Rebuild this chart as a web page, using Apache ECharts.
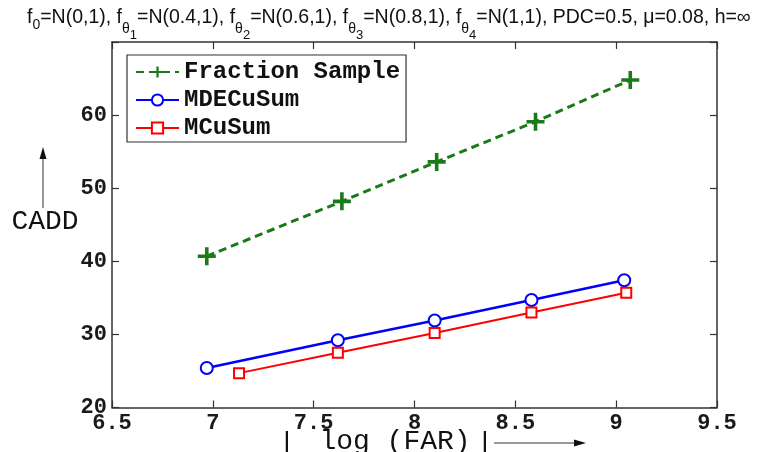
<!DOCTYPE html>
<html><head><meta charset="utf-8">
<script src="https://cdn.jsdelivr.net/npm/echarts@6/dist/echarts.min.js"></script>
<style>html,body{margin:0;padding:0;background:#fff}#c{width:757px;height:452px}</style>
</head><body><div id="c"></div>
<script>
// ---- data ----
const seriesNames = ['Fraction Sample', 'MDECuSum', 'MCuSum'];
const xTicks = ['6.5', '7', '7.5', '8', '8.5', '9', '9.5'];
const yTicks = ['20', '30', '40', '50', '60'];
const fracX = [6.97, 7.64, 8.11, 8.60, 9.07];
const fracY = [40.7, 48.2, 53.6, 59.1, 64.8];
const mdeX  = [6.97, 7.62, 8.10, 8.58, 9.04];
const mdeY  = [25.4, 29.2, 31.9, 34.7, 37.4];
const mcX   = [7.13, 7.62, 8.10, 8.58, 9.05];
const mcY   = [24.7, 27.5, 30.2, 33.0, 35.7];

const pairs = (xs, ys) => xs.map((x, i) => [x, ys[i]]);
const MONO = '"Liberation Mono", "Courier New", monospace';
const SANS = '"Liberation Sans", Arial, sans-serif';
const AX = '#333';
const GREEN = '#1a7a1a', BLUE = '#0000ff', RED = '#ff0000';
const PLUS = 'path://M0.4,0H0.6V0.4H1V0.6H0.6V1H0.4V0.6H0V0.4H0.4Z';

const chart = echarts.init(document.getElementById('c'), null, {renderer: 'canvas'});

const axisCommon = {
  type: 'value',
  axisLine: {show: true, lineStyle: {color: AX, width: 1.5}},
  axisTick: {show: true, inside: true, length: 7, lineStyle: {color: AX, width: 1.2}},
  splitLine: {show: false}
};

const rich = {
  n: {fontFamily: SANS, fontSize: 19.5, lineHeight: 22, verticalAlign: 'top', color: '#111', fontWeight: 'normal'},
  s: {fontFamily: SANS, fontSize: 14, lineHeight: 15, verticalAlign: 'top', padding: [10.5, 0, 0, 0], color: '#111', fontWeight: 'normal'},
  t: {fontFamily: SANS, fontSize: 14, lineHeight: 15, verticalAlign: 'top', padding: [14.5, 0, 0, 0], color: '#111', fontWeight: 'normal'},
  u: {fontFamily: SANS, fontSize: 13, lineHeight: 14, verticalAlign: 'top', padding: [21, 0, 0, 0], color: '#111', fontWeight: 'normal'}
};
const titleText = '{n|f}{s|0}{n|=N(0,1), f}{t|θ}{u|1}{n|=N(0.4,1), f}{t|θ}{u|2}{n|=N(0.6,1), f}{t|θ}{u|3}{n|=N(0.8,1), f}{t|θ}{u|4}{n|=N(1,1), PDC=0.5, μ=0.08, h=∞}';

const option = {
  animation: false,
  backgroundColor: '#fff',
  title: {text: titleText, left: 27, top: 8, padding: 0, textStyle: {rich: rich}},
  grid: {left: 112, right: 40, top: 42, bottom: 44.5, containLabel: false},
  xAxis: [
    Object.assign({}, axisCommon, {
      min: 6.5, max: 9.5, interval: 0.5, position: 'bottom',
      axisLabel: {show: true, margin: 5, fontFamily: MONO, fontSize: 22, fontWeight: 'bold', color: '#1a1a1a',
        formatter: v => xTicks[Math.round((v - 6.5) / 0.5)]}
    }),
    Object.assign({}, axisCommon, {
      min: 6.5, max: 9.5, interval: 0.5, position: 'top', axisLabel: {show: false}
    })
  ],
  yAxis: [
    Object.assign({}, axisCommon, {
      min: 20, max: 70, interval: 10, position: 'left',
      axisLabel: {show: true, margin: 5, fontFamily: MONO, fontSize: 22, fontWeight: 'bold', color: '#1a1a1a',
        formatter: v => { const i = Math.round((v - 20) / 10); return i < yTicks.length ? yTicks[i] : ''; }}
    }),
    Object.assign({}, axisCommon, {
      min: 20, max: 70, interval: 10, position: 'right', axisLabel: {show: false}
    })
  ],
  legend: {
    orient: 'vertical', left: 127, top: 55, data: seriesNames,
    itemWidth: 43, itemHeight: 14, itemGap: 4, padding: [5, 6, 2, 8],
    borderColor: AX, borderWidth: 1.2, backgroundColor: '#fff', borderRadius: 0,
    textStyle: {fontFamily: MONO, fontSize: 24, fontWeight: 'bold', color: '#111', lineHeight: 24}
  },
  series: [
    {name: seriesNames[0], type: 'line', data: pairs(fracX, fracY), symbol: PLUS, symbolSize: 18,
      itemStyle: {color: GREEN}, lineStyle: {color: GREEN, width: 3, type: [8, 5]}, z: 3},
    {name: seriesNames[1], type: 'line', data: pairs(mdeX, mdeY), symbol: 'emptyCircle', symbolSize: 12,
      itemStyle: {color: BLUE, borderColor: BLUE, borderWidth: 2.5}, lineStyle: {color: BLUE, width: 2.5}, z: 3},
    {name: seriesNames[2], type: 'line', data: pairs(mcX, mcY), symbol: 'emptyRect', symbolSize: 10,
      itemStyle: {color: RED, borderColor: RED, borderWidth: 3.5}, lineStyle: {color: RED, width: 2}, z: 3}
  ],
  graphic: [
    {type: 'text', x: 45, y: 222, style: {text: 'CADD', font: '28px ' + MONO, fill: '#111', align: 'center', verticalAlign: 'middle'}},
    {type: 'line', shape: {x1: 43, y1: 208, x2: 43, y2: 157}, style: {stroke: '#333', lineWidth: 1}},
    {type: 'polygon', shape: {points: [[43, 147], [39.5, 159], [46.5, 159]]}, style: {fill: '#111'}},
    {type: 'text', x: 287, y: 444, style: {text: '|', font: '28px ' + MONO, fill: '#111', align: 'center', verticalAlign: 'middle'}},
    {type: 'text', x: 395, y: 442, style: {text: 'log (FAR)', font: '28px ' + MONO, fill: '#111', align: 'center', verticalAlign: 'middle'}},
    {type: 'text', x: 485, y: 444, style: {text: '|', font: '28px ' + MONO, fill: '#111', align: 'center', verticalAlign: 'middle'}},
    {type: 'line', shape: {x1: 494, y1: 443, x2: 576, y2: 443}, style: {stroke: '#333', lineWidth: 1}},
    {type: 'polygon', shape: {points: [[586, 443], [574, 439.5], [574, 446.5]]}, style: {fill: '#111'}}
  ]
};
chart.setOption(option);
</script></body></html>
